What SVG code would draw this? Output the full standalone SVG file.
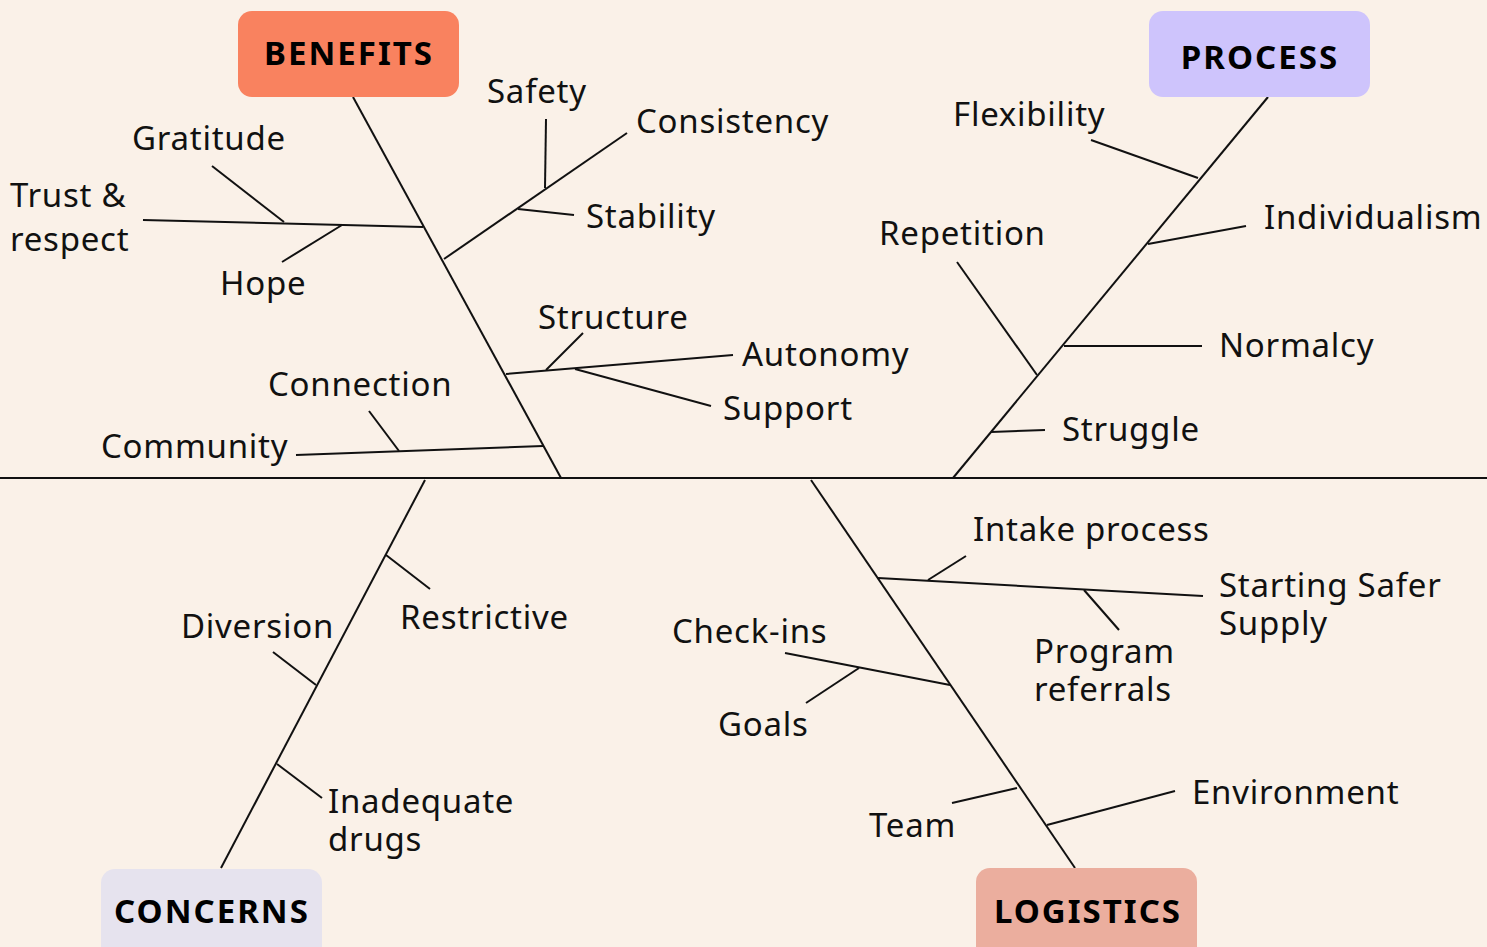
<svg xmlns="http://www.w3.org/2000/svg" width="1487" height="947" viewBox="0 0 1487 947">
<style>
.bg{fill:#FAF1E8}
.ln{stroke:#111;stroke-width:2;fill:none;stroke-linecap:butt}
.lbl{font-family:"Noto Sans","Liberation Sans",sans-serif;font-size:33px;letter-spacing:0.75px;fill:#111}
.hdr{font-family:"Noto Sans","Liberation Sans",sans-serif;font-size:33px;letter-spacing:2px;font-weight:bold;fill:#000;text-anchor:middle}
</style>
<rect class="bg" x="0" y="0" width="1487" height="947"/>
<g id="connectors">
<line class="ln" x1="0" y1="478" x2="1487" y2="478"/>
<line class="ln" x1="353" y1="97" x2="561" y2="478"/>
<line class="ln" x1="1268" y1="97" x2="953" y2="478"/>
<line class="ln" x1="425" y1="480" x2="221" y2="868"/>
<line class="ln" x1="811" y1="480" x2="1075" y2="868"/>
<line class="ln" x1="143" y1="220" x2="423" y2="227"/>
<line class="ln" x1="212" y1="166" x2="284" y2="222"/>
<line class="ln" x1="282" y1="262" x2="342" y2="225"/>
<line class="ln" x1="444" y1="259" x2="627" y2="133"/>
<line class="ln" x1="546" y1="119" x2="545" y2="188"/>
<line class="ln" x1="518" y1="209" x2="574" y2="215"/>
<line class="ln" x1="506" y1="374" x2="733" y2="355"/>
<line class="ln" x1="583" y1="333" x2="546" y2="370"/>
<line class="ln" x1="575" y1="369" x2="711" y2="406"/>
<line class="ln" x1="296" y1="455" x2="543" y2="446"/>
<line class="ln" x1="369" y1="411" x2="399" y2="451"/>
<line class="ln" x1="1091" y1="140" x2="1198" y2="178"/>
<line class="ln" x1="1148" y1="244" x2="1246" y2="226"/>
<line class="ln" x1="1064" y1="346" x2="1202" y2="346"/>
<line class="ln" x1="957" y1="262" x2="1037" y2="375"/>
<line class="ln" x1="991" y1="432" x2="1045" y2="430"/>
<line class="ln" x1="386" y1="555" x2="430" y2="589"/>
<line class="ln" x1="273" y1="652" x2="316" y2="685"/>
<line class="ln" x1="277" y1="764" x2="322" y2="798"/>
<line class="ln" x1="878" y1="578" x2="1203" y2="596"/>
<line class="ln" x1="928" y1="580" x2="966" y2="556"/>
<line class="ln" x1="1084" y1="590" x2="1119" y2="630"/>
<line class="ln" x1="785" y1="653" x2="950" y2="685"/>
<line class="ln" x1="806" y1="703" x2="859" y2="668"/>
<line class="ln" x1="952" y1="803" x2="1017" y2="788"/>
<line class="ln" x1="1047" y1="825" x2="1175" y2="791"/>
</g>
<g id="benefits"><rect x="238" y="11" width="221" height="86" rx="14" fill="#F9825F"/><text class="hdr" x="349" y="65">BENEFITS</text></g>
<g id="process"><rect x="1149" y="11" width="221" height="86" rx="14" fill="#CEC4FC"/><text class="hdr" x="1260" y="69">PROCESS</text></g>
<g id="concerns"><rect x="101" y="869" width="221" height="100" rx="14" fill="#E6E3EE"/><text class="hdr" x="212" y="923">CONCERNS</text></g>
<g id="logistics"><rect x="976" y="868" width="221" height="100" rx="14" fill="#EBAE9E"/><text class="hdr" x="1088" y="923">LOGISTICS</text></g>
<g id="labels">
<text class="lbl" x="487" y="103">Safety</text>
<text class="lbl" x="636" y="133">Consistency</text>
<text class="lbl" x="586" y="228">Stability</text>
<text class="lbl" x="132" y="150">Gratitude</text>
<text class="lbl" x="10" y="207">Trust &amp;</text>
<text class="lbl" x="10" y="251">respect</text>
<text class="lbl" x="220" y="295">Hope</text>
<text class="lbl" x="538" y="329">Structure</text>
<text class="lbl" x="742" y="366">Autonomy</text>
<text class="lbl" x="723" y="420">Support</text>
<text class="lbl" x="268" y="396">Connection</text>
<text class="lbl" x="101" y="458">Community</text>
<text class="lbl" x="953" y="126">Flexibility</text>
<text class="lbl" x="1264" y="229">Individualism</text>
<text class="lbl" x="879" y="245">Repetition</text>
<text class="lbl" x="1219" y="357">Normalcy</text>
<text class="lbl" x="1062" y="441">Struggle</text>
<text class="lbl" x="400" y="629">Restrictive</text>
<text class="lbl" x="181" y="638">Diversion</text>
<text class="lbl" x="328" y="813">Inadequate</text>
<text class="lbl" x="328" y="851">drugs</text>
<text class="lbl" x="973" y="541">Intake process</text>
<text class="lbl" x="1219" y="597">Starting Safer</text>
<text class="lbl" x="1219" y="635">Supply</text>
<text class="lbl" x="1034" y="663">Program</text>
<text class="lbl" x="1034" y="701">referrals</text>
<text class="lbl" x="672" y="643">Check-ins</text>
<text class="lbl" x="718" y="736">Goals</text>
<text class="lbl" x="869" y="837">Team</text>
<text class="lbl" x="1192" y="804">Environment</text>
</g>
</svg>
